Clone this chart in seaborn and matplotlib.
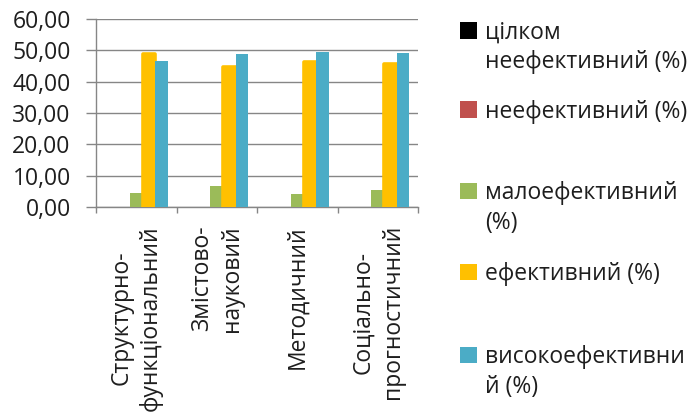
import matplotlib
matplotlib.use("Agg")
import matplotlib.pyplot as plt
import seaborn as sns
import pandas as pd
from matplotlib.patches import Rectangle
from matplotlib.ticker import FuncFormatter

# ---- data ----
categories = ["Структурно-\nфункціональний", "Змістово-\nнауковий",
              "Методичний", "Соціально-\nпрогностичний"]
series = ["цілком неефективний (%)", "неефективний (%)", "малоефективний (%)",
          "ефективний (%)", "високоефективний (%)"]
legend_lines = [["цілком", "неефективний (%)"], ["неефективний (%)"],
                ["малоефективний", "(%)"], ["ефективний (%)"],
                ["високоефективни", "й (%)"]]
tsilkom_neef = [0.0, 0.0, 0.0, 0.0]
neef = [0.0, 0.0, 0.0, 0.0]
maloef = [4.6, 6.6, 4.2, 5.3]
efekt = [48.7, 44.7, 46.3, 45.6]
vysokoef = [46.7, 48.7, 49.5, 49.1]
yticks = [0, 10, 20, 30, 40, 50, 60]
colors = ["#000000", "#C0504D", "#9BBB59", "#FFC000", "#4BACC6"]

values = [tsilkom_neef, neef, maloef, efekt, vysokoef]
rows = []
for s, vals in zip(series, values):
    for c, v in zip(categories, vals):
        rows.append({"cat": c, "series": s, "value": v})
df = pd.DataFrame(rows)

sns.set_style("white")
plt.rcParams["font.family"] = ["Open Sans", "DejaVu Sans"]
TXT = "#1e1e1e"
GRAY = "#868686"
FS = 16.5

W, H = 688, 416
fig = plt.figure(figsize=(W / 100, H / 100), dpi=100)
ax = fig.add_axes([96 / W, 1 - 207 / H, (418 - 96) / W, (207 - 19) / H])

sns.barplot(data=df, x="cat", y="value", hue="series", order=categories,
            hue_order=series, palette=colors, width=0.78, saturation=1,
            legend=False, ax=ax, linewidth=0, zorder=3)

# soft glow on the yellow bars
for p in ax.containers[3]:
    p.set_edgecolor("#FFC000")
    p.set_linewidth(2.6)
    p.set_joinstyle("round")

ax.set_ylim(0, 60)
ax.set_xlim(-0.5, len(categories) - 0.5)
ax.set_yticks(yticks)
ax.yaxis.set_major_formatter(FuncFormatter(lambda v, _: f"{v:.2f}".replace(".", ",")))
ax.yaxis.grid(True, color=GRAY, lw=1, zorder=0)
ax.set_axisbelow(True)
ax.set_xlabel("")
ax.set_ylabel("")

for s in ["top", "right"]:
    ax.spines[s].set_visible(False)
for s in ["left", "bottom"]:
    ax.spines[s].set_color(GRAY)
    ax.spines[s].set_linewidth(1)

ax.tick_params(axis="y", which="major", length=7.2, width=1, color=GRAY,
               direction="out", pad=11, labelsize=FS, labelcolor=TXT, left=True)
ax.set_xticks([i - 0.5 for i in range(len(categories) + 1)], minor=True)
ax.tick_params(axis="x", which="minor", length=4.3, width=1, color=GRAY,
               direction="out", bottom=True)
ax.tick_params(axis="x", which="major", length=0, pad=13, labelsize=FS,
               labelcolor=TXT)
for lab in ax.get_xticklabels():
    lab.set_rotation(90)
    lab.set_ha("center")
    lab.set_va("top")
    lab.set_multialignment("center")
    lab.set_linespacing(1.32)

# ---- legend (manual placement like the original) ----
def fx(px):
    return px / W

def fy(py):
    return 1 - py / H

first_baselines = [38.5, 118, 199, 280, 363]
for col, lines, base in zip(colors, legend_lines, first_baselines):
    fig.patches.append(Rectangle((fx(460), fy(base)), 17 / W, 16.5 / H,
                                 transform=fig.transFigure, facecolor=col,
                                 edgecolor="none"))
    for k, line in enumerate(lines):
        fig.text(fx(485), fy(base + 30 * k), line, fontsize=FS, color=TXT,
                 ha="left", va="baseline")

fig.savefig("out.png", dpi=100)
